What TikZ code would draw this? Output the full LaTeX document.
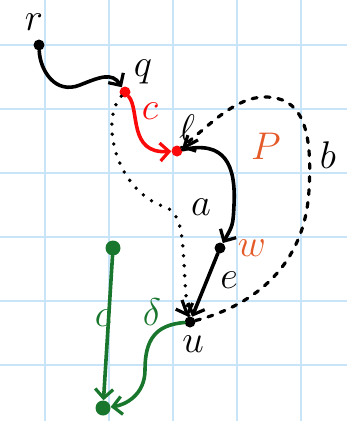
\documentclass[tikz,border=0pt]{standalone}
\usepackage{graphicx}
\usetikzlibrary{arrows.meta}
\definecolor{gridblue}{RGB}{200,228,248}
\definecolor{pred}{RGB}{250,10,10}
\definecolor{porange}{RGB}{228,90,40}
\definecolor{pgreen}{RGB}{25,118,45}
\newcommand{\biglab}[1]{\scalebox{1.55}{$#1$}}
\tikzset{
  dot/.style={circle,fill,inner sep=0pt,minimum size=11pt},
  bigdot/.style={circle,fill,inner sep=0pt,minimum size=15pt},
  lab/.style={inner sep=0pt,font=\fontsize{24.88}{26}\selectfont},
  tip/.style={-{Straight Barb[length=9pt,width=18pt,line width=3.2pt]}},
  edge/.style={line width=3.6pt,line cap=round,tip},
  dotted path/.style={line width=3.8pt,line cap=round,dash pattern=on 0pt off 10pt},
  dashed path/.style={line width=3.2pt,line cap=round,dash pattern=on 5pt off 8pt},
}
\begin{document}
\begin{tikzpicture}[x=1pt,y=-1pt]
\useasboundingbox (0,0) rectangle (347,421);
% squared paper
\foreach \gx in {45,109,173,237,301} \draw[gridblue,line width=1.6pt] (\gx,0) -- (\gx,421);
\foreach \gy in {45,109,173,237,301,365} \draw[gridblue,line width=1.6pt] (0,\gy) -- (347,\gy);

% vertices
\node[dot] (r) at (39,45) {};
\node[dot,pred] (q) at (125,92) {};
\node[dot,pred] (l) at (177,151) {};
\node[dot] (w) at (220,248) {};
\node[dot] (u) at (190,322) {};
\node[bigdot,pgreen] (g1) at (113,248) {};
\node[bigdot,pgreen] (g2) at (103,408) {};

% labels
\node[lab] (rl) at (34,22) {\biglab{r}};
\node[lab] (ql) at (143,72) {\biglab{q}};
\node[lab] (ll) at (187,128) {\biglab{\ell}};
\node[lab,porange] (wl) at (252,248) {\biglab{w}};
\node[lab] (ul) at (193,344) {\biglab{u}};
\node[lab,porange] (pl) at (266,146) {\biglab{P}};
\node[lab] (bl) at (328,155) {\biglab{b}};
\node[lab] (al) at (201,207) {\biglab{a}};
\node[lab] (el) at (229,280) {\biglab{e}};
\node[lab,pred] (cl) at (150,111) {\biglab{c}};
\node[lab,pgreen] (gcl) at (103,318) {\biglab{c}};
\node[lab,pgreen] (gdl) at (152,312) {\biglab{\delta}};

% path from r to q
\draw[edge] (r) .. controls (40,70) and (55,95) .. (80,85)
            .. controls (100,77) and (112,72) .. (q);
% red edge q -> l
\draw[edge,pred] (q) .. controls (140,110) and (128,154) .. (l);
% path l -> w
\draw[edge] (l) .. controls (225,140) and (236,165) .. (234,205)
            .. controls (233,225) .. (w);
% edge w -> u
\draw[edge] (w) -- (u);
% dotted path a from q to u
\draw[dotted path] (q) .. controls (100,120) and (115,190) .. (165,207)
            .. controls (190,215) and (180,270) .. (u);
\draw[line width=3.2pt,tip] (182,300) -- (u);
% dashed path b from u back to l
\draw[dashed path] (u) .. controls (255,305) and (305,265) .. (309,190)
            .. controls (313,125) and (300,97) .. (265,97)
            .. controls (235,97) and (210,125) .. (l);
\draw[line width=3.2pt,tip] (198,140) -- (l);
% green edges
\draw[edge,pgreen] (g1) -- (g2);
\draw[edge,pgreen] (u) .. controls (155,325) and (145,340) .. (145,370)
            .. controls (145,395) and (125,405) .. (g2);
\end{tikzpicture}
\end{document}
